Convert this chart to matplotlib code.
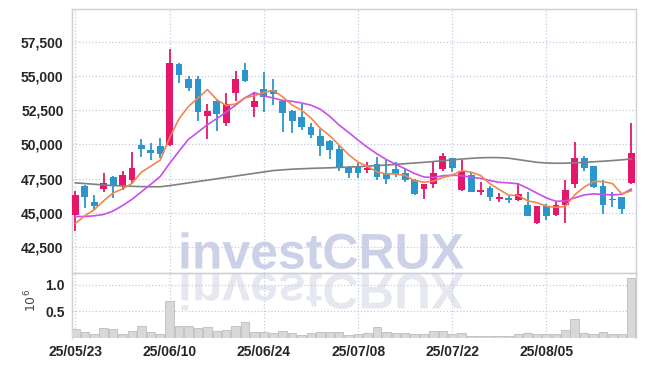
import matplotlib
matplotlib.use('Agg')
import matplotlib.pyplot as plt
from matplotlib.patches import Rectangle, PathPatch
from matplotlib.textpath import TextPath
from matplotlib.font_manager import FontProperties
from matplotlib.transforms import Affine2D

# trading days (yy/mm/dd)
dates = ['25/05/23', '25/05/26', '25/05/27', '25/05/28', '25/05/29', '25/05/30',
         '25/06/02', '25/06/04', '25/06/05', '25/06/09', '25/06/10', '25/06/11',
         '25/06/12', '25/06/13', '25/06/16', '25/06/17', '25/06/18', '25/06/19',
         '25/06/20', '25/06/23', '25/06/24', '25/06/25', '25/06/26', '25/06/27',
         '25/06/30', '25/07/01', '25/07/02', '25/07/03', '25/07/04', '25/07/07',
         '25/07/08', '25/07/09', '25/07/10', '25/07/11', '25/07/14', '25/07/15',
         '25/07/16', '25/07/17', '25/07/18', '25/07/21', '25/07/22', '25/07/23',
         '25/07/24', '25/07/25', '25/07/28', '25/07/29', '25/07/30', '25/07/31',
         '25/08/01', '25/08/04', '25/08/05', '25/08/06', '25/08/07', '25/08/08',
         '25/08/11', '25/08/12', '25/08/13', '25/08/14', '25/08/18', '25/08/19']

opens = [44850, 46950, 45800, 46750, 47650, 46950, 47400, 49950, 49600, 49900,
         49950, 55900, 54800, 54800, 52050, 53150, 51550, 53750, 55450, 52750,
         54050, 54000, 53200, 52450, 52000, 51300, 50600, 50250, 49700, 48350,
         48450, 48150, 48550, 47850, 48200, 47950, 47400, 46750, 47150, 48200,
         49000, 46650, 47800, 46500, 46800, 46000, 46100, 45950, 45600, 44250,
         45550, 44850, 45600, 47150, 49050, 48400, 47000, 46050, 46200, 47200]
highs = [46600, 47050, 46300, 47900, 47700, 48100, 49450, 50400, 50100, 50450,
         56950, 55950, 55000, 55000, 52950, 53250, 53750, 55350, 55950, 53800,
         55300, 54750, 53250, 52500, 52950, 51600, 51100, 50300, 49950, 48400,
         48650, 48700, 49100, 48900, 48700, 48250, 47450, 47100, 48750, 49400,
         49050, 48850, 47900, 47300, 47000, 46450, 46350, 47200, 46550, 45550,
         45650, 45800, 47400, 50200, 49150, 48400, 47400, 46500, 46200, 51600]
lows = [43700, 45350, 45200, 46550, 46100, 46700, 47150, 49100, 48850, 49050,
        49900, 54450, 53900, 51700, 50400, 51000, 51350, 53150, 54550, 52000,
        52400, 52850, 50900, 50850, 51050, 50450, 49150, 48950, 48050, 47550,
        47550, 47950, 47400, 47100, 47600, 47300, 46350, 46000, 46850, 48050,
        48000, 46600, 46500, 46350, 45850, 45800, 45700, 45850, 44750, 44200,
        44500, 44800, 44250, 46850, 48050, 46850, 44950, 45450, 44950, 47100]
closes = [46350, 46200, 45550, 47200, 47050, 47750, 48250, 49650, 49400, 49300,
          55950, 55100, 54150, 52350, 52450, 52250, 52950, 54750, 54650, 53200,
          53500, 53650, 52300, 51700, 51300, 50700, 49900, 49600, 48250, 47900,
          47950, 48300, 47650, 47500, 47850, 47400, 46400, 47100, 47900, 49150,
          48300, 48050, 46500, 46700, 46150, 46150, 45950, 46400, 44750, 45500,
          44800, 45600, 46700, 49050, 48300, 46900, 45600, 45950, 45300, 49400]

# moving averages as drawn on the chart
ma5 = [44250, 44800, 45250, 45900, 46470, 46760, 47160, 47980, 48420, 48860,
       50500, 51880, 52780, 53380, 54010, 53270, 52840, 52950, 53410, 53560,
       53810, 53950, 53470, 52880, 52500, 51930, 51180, 50640, 49940, 49260,
       48710, 48400, 48000, 47860, 47850, 47740, 47360, 47250, 47330, 47590,
       47770, 48090, 47980, 47740, 47140, 46710, 46300, 46280, 45890, 45760,
       45500, 45420, 45480, 46330, 46890, 47300, 47300, 47150, 46400, 46620]
ma10 = [44750, 44750, 44800, 44900, 45150, 45550, 46000, 46550, 47100, 47670,
        48630, 49520, 50380, 50900, 51440, 51890, 52360, 52870, 53400, 53790,
        53540, 53390, 53210, 53150, 53030, 52870, 52570, 52050, 51410, 50880,
        50320, 49790, 49320, 48900, 48560, 48220, 47880, 47630, 47590, 47720,
        47760, 47720, 47610, 47530, 47370, 47240, 47200, 47130, 46810, 46450,
        46100, 45860, 45880, 46110, 46320, 46400, 46360, 46320, 46370, 46750]
ma60 = [47200, 47150, 47100, 47050, 47000, 46980, 46950, 46930, 46920, 46920,
        47000, 47100, 47200, 47300, 47400, 47500, 47600, 47700, 47800, 47900,
        48000, 48100, 48150, 48200, 48230, 48260, 48280, 48300, 48330, 48350,
        48380, 48420, 48460, 48500, 48550, 48600, 48650, 48700, 48760, 48820,
        48880, 48940, 48990, 49030, 49050, 49040, 49000, 48900, 48800, 48700,
        48650, 48630, 48640, 48660, 48700, 48740, 48780, 48830, 48880, 48950]

# volume in millions of shares
volume = [0.163, 0.113, 0.075, 0.181, 0.163, 0.075, 0.125, 0.225, 0.106, 0.075,
          0.688, 0.225, 0.225, 0.188, 0.200, 0.131, 0.144, 0.225, 0.294, 0.106,
          0.106, 0.088, 0.125, 0.088, 0.056, 0.088, 0.106, 0.106, 0.106, 0.056,
          0.075, 0.100, 0.200, 0.106, 0.088, 0.094, 0.075, 0.075, 0.125, 0.125,
          0.075, 0.088, 0.038, 0.038, 0.038, 0.038, 0.038, 0.075, 0.094, 0.075,
          0.075, 0.075, 0.144, 0.350, 0.094, 0.075, 0.106, 0.075, 0.075, 1.125]

price_ticks = [42500, 45000, 47500, 50000, 52500, 55000, 57500]
vol_ticks = [0.5, 1.0]

UP = '#e5176a'
DOWN = '#2b96cb'
GRID = '#c6cadf'
SPINE = '#cfcfd6'

tick_font = {'family': ['Liberation Sans Narrow', 'Liberation Sans', 'DejaVu Sans'],
             'weight': 'bold', 'size': 10}

fig = plt.figure(figsize=(6.45, 3.66), dpi=100)
ax = fig.add_axes([0.1116, 0.2549, 0.8744, 0.7197])
axv = fig.add_axes([0.1116, 0.0765, 0.8744, 0.1784], sharex=ax)
for a in (ax, axv):
    a.set_facecolor('none')

n = len(closes)
xs = list(range(n))

# candles
for i in xs:
    o, h, l, c = opens[i], highs[i], lows[i], closes[i]
    col = UP if c >= o else DOWN
    ax.vlines(i, l, h, color=col, linewidth=1.3, zorder=3)
    lo = min(o, c)
    ax.add_patch(Rectangle((i - 0.36, lo), 0.72, max(abs(c - o), 60),
                           facecolor=col, edgecolor='none', zorder=4))

ax.plot(xs, ma60, color='#808080', linewidth=1.2, zorder=5)
ax.plot(xs, ma10, color='#c94fea', linewidth=1.2, zorder=5)
ax.plot(xs, ma5, color='#f0874c', linewidth=1.2, zorder=6)

ax.set_xlim(-0.37, 59.5)
ax.set_ylim(40650, 59860)
ax.set_yticks(price_ticks)
ax.set_yticklabels([f'{v:,}' for v in price_ticks], fontdict=tick_font, color='#262626')
ax.grid(True, linestyle=':', color=GRID, linewidth=0.9)
ax.set_axisbelow(True)
ax.tick_params(length=0, pad=6, labelbottom=False)

# volume
axv.bar(xs, volume, width=0.9, color='#d8d8d8', edgecolor='#bdbdbd', linewidth=0.6, zorder=3)
axv.set_ylim(0, 1.225)
axv.set_yticks(vol_ticks)
axv.set_yticklabels([f'{v:.1f}' for v in vol_ticks], fontdict=tick_font, color='#262626')
axv.set_ylabel(r'$10^6$', fontsize=9, color='#444444')
axv.yaxis.set_label_coords(-0.058, 0.57)
axv.grid(True, linestyle=':', color=GRID, linewidth=0.9)
axv.set_axisbelow(True)
tick_pos = list(range(0, n, 10))
axv.set_xticks(tick_pos)
axv.set_xticklabels([dates[i] for i in tick_pos], fontdict=tick_font, color='#262626')
axv.tick_params(length=0, pad=5)

for a in (ax, axv):
    for s in a.spines.values():
        s.set_color(SPINE)
        s.set_linewidth(1.0)
axv.spines['bottom'].set_visible(False)
ax.spines['bottom'].set_color('#d4d4d8')

# watermark with reflection
fp = FontProperties(family='Liberation Sans', weight='bold')
tp = TextPath((0, 0), 'investCRUX', size=48, prop=fp)
ext = tp.get_extents()
sc = 282 / ext.width
x0 = 181.5 - ext.x0 * sc
top = PathPatch(tp, transform=Affine2D().scale(sc, sc).translate(x0, 97.5),
                facecolor='#cbd2e8', edgecolor='none', zorder=-1)
refl = PathPatch(tp, transform=Affine2D().scale(sc, -sc).translate(x0, 92),
                 facecolor='#e6e8f1', edgecolor='none', zorder=-1)
fig.add_artist(top)
fig.add_artist(refl)

fig.savefig('out.png', dpi=100, facecolor='white')
plt.close('all')
